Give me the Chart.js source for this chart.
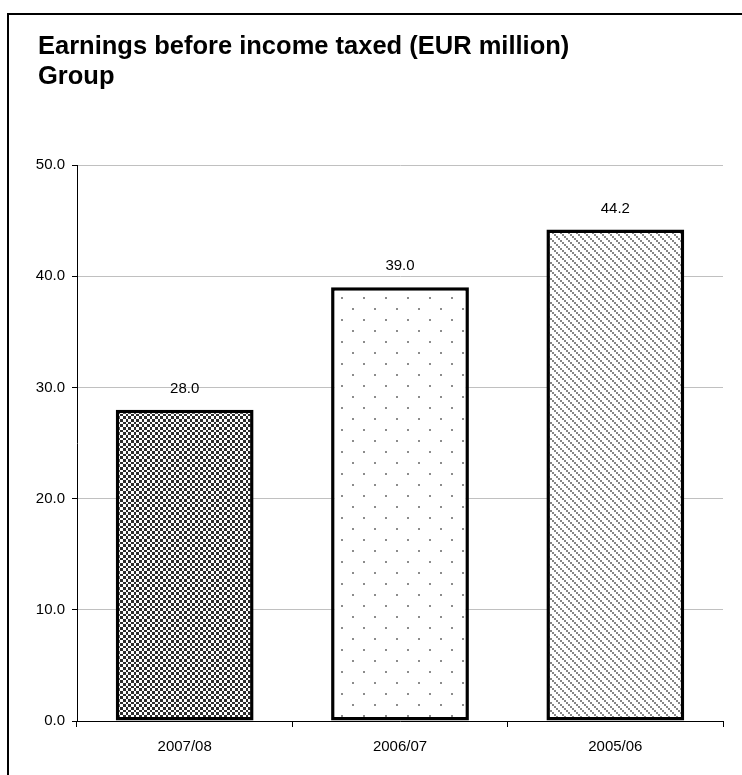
<!DOCTYPE html>
<html lang="en">
<head>
<meta charset="UTF-8">
<title>Earnings before income taxed (EUR million)</title>
<script src="https://cdn.jsdelivr.net/npm/chart.js"></script>
<style>
    body { margin: 0; background: #fff; }
    canvas { display: block; }
</style>
</head>
<body>
<canvas id="ebtChart" width="742" height="775"></canvas>
<script>
    const years = ['2007/08', '2006/07', '2005/06'];
    const earnings = [28.0, 39.0, 44.2];
    const yTicks = [0, 10, 20, 30, 40, 50];
    const titleLines = ['Earnings before income taxed (EUR million)', 'Group'];

    const FONT = '"Liberation Sans", Arial, sans-serif';

    // small tiles used as fills for the bars
    function makePattern(size, paint) {
        const c = document.createElement('canvas');
        c.width = size;
        c.height = size;
        const g = c.getContext('2d');
        g.fillStyle = '#fff';
        g.fillRect(0, 0, size, size);
        paint(g);
        return c.getContext('2d').createPattern(c, 'repeat');
    }

    // dense checkerboard
    const checker = makePattern(16, g => {
        const edges = [0, 3, 6, 8, 11, 14, 16];
        g.fillStyle = '#2e2e2e';
        for (let i = 0; i < 6; i++) {
            for (let j = 0; j < 6; j++) {
                if ((i + j) % 2 === 0) {
                    g.fillRect(edges[i], edges[j], edges[i + 1] - edges[i], edges[j + 1] - edges[j]);
                }
            }
        }
    });

    // sparse staggered dots
    const dots = makePattern(22, g => {
        g.fillStyle = '#8c8c8c';
        g.fillRect(0, 0, 2, 2);
        g.fillRect(11, 11, 2, 2);
    });

    // thin downward diagonals
    const stripes = makePattern(8, g => {
        g.fillStyle = '#868686';
        for (let k = 0; k < 4; k++) g.fillRect(k * 2, k * 2, 2, 2);
    });

    // white page, outer frame and the two-line heading
    const frame = {
        id: 'frame',
        beforeDraw(chart) {
            const ctx = chart.ctx;
            ctx.save();
            ctx.fillStyle = '#fff';
            ctx.fillRect(0, 0, chart.width, chart.height);
            ctx.strokeStyle = '#000';
            ctx.lineWidth = 2;
            ctx.strokeRect(8, 14, chart.width + 20, chart.height + 20);
            ctx.fillStyle = '#000';
            ctx.font = 'bold 25.5px ' + FONT;
            ctx.textAlign = 'left';
            ctx.textBaseline = 'middle';
            titleLines.forEach((line, i) => ctx.fillText(line, 38, 47 + i * 30));
            ctx.restore();
        }
    };

    const valueLabels = {
        id: 'valueLabels',
        afterDatasetsDraw(chart) {
            const ctx = chart.ctx;
            const meta = chart.getDatasetMeta(0);
            ctx.save();
            ctx.fillStyle = '#000';
            ctx.font = '15px ' + FONT;
            ctx.textAlign = 'center';
            ctx.textBaseline = 'middle';
            meta.data.forEach((bar, i) => {
                ctx.fillText(earnings[i].toFixed(1), bar.x, bar.y - 21);
            });
            ctx.restore();
        }
    };

    new Chart(document.getElementById('ebtChart'), {
        type: 'bar',
        data: {
            labels: years,
            datasets: [{
                data: earnings,
                backgroundColor: [checker, dots, stripes],
                borderColor: '#000',
                borderWidth: 3.5,
                borderSkipped: false,
                barPercentage: 0.64,
                categoryPercentage: 1.0
            }]
        },
        options: {
            responsive: false,
            animation: false,
            devicePixelRatio: 1,
            layout: { padding: { top: 165, left: 0, right: 19, bottom: 0 } },
            plugins: {
                legend: { display: false },
                tooltip: { enabled: false },
                title: { display: false }
            },
            scales: {
                x: {
                    afterFit: s => { s.height = 54; },
                    grid: { offset: true, drawOnChartArea: false, tickLength: 6, tickColor: '#000' },
                    border: { color: '#000', width: 1 },
                    ticks: { color: '#000', padding: 11, font: { family: FONT, size: 15 } }
                },
                y: {
                    min: 0,
                    max: 50,
                    afterFit: s => { s.width = 77; },
                    afterBuildTicks: s => { s.ticks = yTicks.map(v => ({ value: v })); },
                    grid: { color: '#c0c0c0', tickColor: '#000', tickLength: 5 },
                    border: { color: '#000', width: 1 },
                    ticks: {
                        color: '#000',
                        padding: 7,
                        font: { family: FONT, size: 15 },
                        callback: v => v.toFixed(1)
                    }
                }
            }
        },
        plugins: [frame, valueLabels]
    });
</script>
</body>
</html>
